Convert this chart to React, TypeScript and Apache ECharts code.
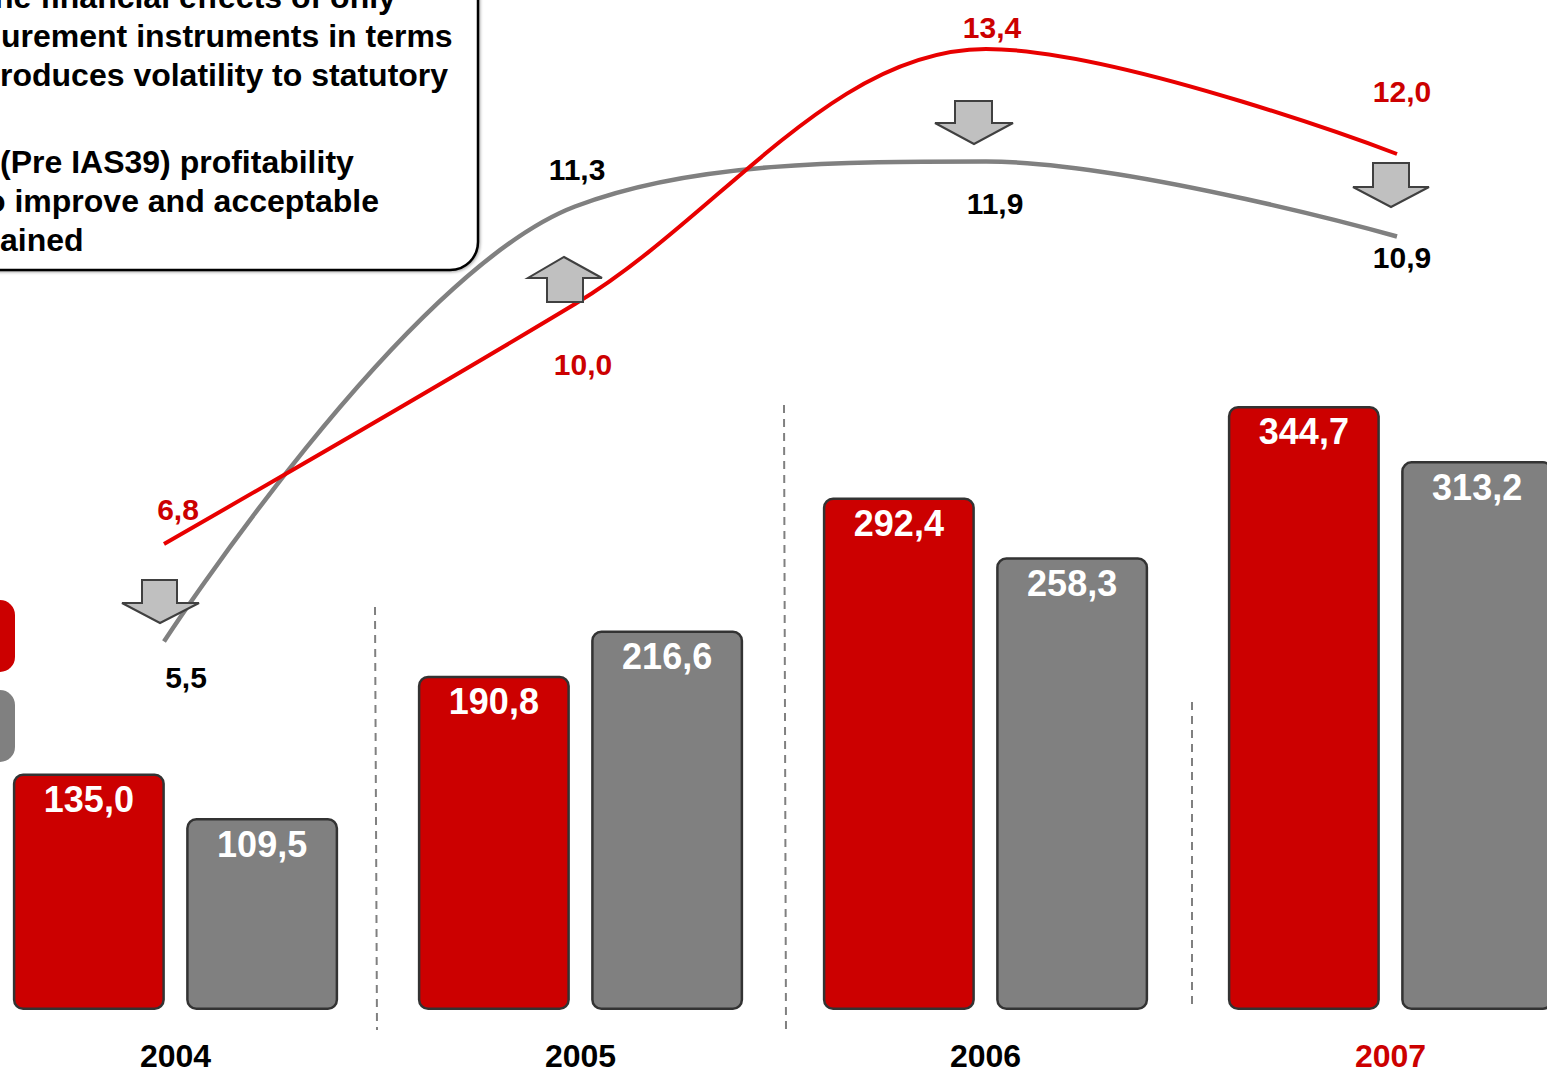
import React, { useEffect, useRef } from "react";
import * as echarts from "echarts";

const categories = ["2004", "2005", "2006", "2007"];
const redBars = [135.0, 190.8, 292.4, 344.7];
const grayBars = [109.5, 216.6, 258.3, 313.2];
const redLine = [6.8, 10.0, 13.4, 12.0];
const grayLine = [5.5, 11.3, 11.9, 10.9];

const boxLines = [
  "he financial effects of only",
  "urement instruments in terms",
  "roduces volatility to statutory",
  "(Pre IAS39) profitability",
  "o improve and acceptable",
  "ained",
];

// label placement styling (not data)
const redLabelOffsets = [[14, -35], [8, 60], [6, -22], [5, -63]];
const grayLabelOffsets = [[22, 36], [2, -37], [9, 42], [5, 21]];

const FONT = "'Liberation Sans', Arial, Helvetica, sans-serif";
const RED = "#CC0000";
const GRAY = "#808080";

// the chart canvas is wider than the page; it starts OFF px left of the page
const OFF = 27;
const CHART_W = 1547 + OFF + 46;
const X = (px: number) => px + OFF;

const fmt = (v: number) => v.toFixed(1).replace(".", ",");

function downArrow(bodyL: number, bodyR: number, top: number, headY: number, headL: number, headR: number, tipX: number, tipY: number) {
  return {
    type: "polygon",
    shape: {
      points: [
        [X(bodyL), top], [X(bodyR), top], [X(bodyR), headY], [X(headR), headY], [X(tipX), tipY], [X(headL), headY], [X(bodyL), headY],
      ],
    },
    style: { fill: "#C0C0C0", stroke: "#404040", lineWidth: 2 },
    z: 20,
  };
}

export default function App() {
  const ref = useRef<HTMLDivElement>(null);
  useEffect(() => {
    document.body.style.margin = "0";
    if (!ref.current) return;
    const chart = echarts.init(ref.current, null, { renderer: "svg" });

    const lineData = (vals: number[], offs: number[][]) =>
      vals.map((v, i) => ({
        value: v,
        label: { offset: offs[i] },
      }));

    const boxYs = [-3, 36, 75, 162, 201, 240];
    const boxXs = [-6, 1, 0, 0, -14, 0];

    const lineLabel = (color: string) => ({
      show: true,
      position: "inside",
      color,
      fontSize: 30,
      fontWeight: "bold",
      fontFamily: FONT,
      formatter: (p: any) => fmt(p.value),
    });

    const barLabel = {
      show: true,
      position: "insideTop",
      distance: 8,
      color: "#ffffff",
      fontSize: 36,
      fontWeight: "bold",
      fontFamily: FONT,
      formatter: (p: any) => fmt(p.value),
    };

    const option: any = {
      animation: false,
      backgroundColor: "#ffffff",
      textStyle: { fontFamily: FONT },
      grid: [
        { left: 0, right: 0, top: 125, bottom: 57 },
        { left: X(164), right: CHART_W - X(1397), top: 4, bottom: 18 },
      ],
      xAxis: [
        {
          type: "category",
          gridIndex: 0,
          data: categories,
          axisLine: { show: false },
          axisTick: { show: false },
          axisLabel: {
            margin: 30,
            fontSize: 32,
            fontWeight: "bold",
            fontFamily: FONT,
            color: (_v: any, i: number) => (i === 3 ? RED : "#000000"),
          },
        },
        {
          type: "category",
          gridIndex: 1,
          data: categories,
          boundaryGap: false,
          show: false,
        },
      ],
      yAxis: [
        { type: "value", gridIndex: 0, min: 0, max: 505, show: false, splitLine: { show: false } },
        { type: "value", gridIndex: 1, min: 0, max: 14, show: false, splitLine: { show: false } },
      ],
      series: [
        {
          type: "bar",
          xAxisIndex: 0,
          yAxisIndex: 0,
          data: redBars,
          barWidth: 152,
          barGap: "14%",
          itemStyle: { color: RED, borderColor: "#333333", borderWidth: 2.5, borderRadius: 9 },
          label: barLabel,
        },
        {
          type: "bar",
          xAxisIndex: 0,
          yAxisIndex: 0,
          data: grayBars,
          barWidth: 152,
          barGap: "14%",
          itemStyle: { color: GRAY, borderColor: "#333333", borderWidth: 2.5, borderRadius: 9 },
          label: barLabel,
        },
        {
          type: "line",
          xAxisIndex: 1,
          yAxisIndex: 1,
          data: lineData(grayLine, grayLabelOffsets),
          smooth: 0.35,
          symbol: "circle",
          symbolSize: 1,
          showSymbol: true,
          itemStyle: { color: "rgba(0,0,0,0)" },
          z: 5,
          lineStyle: { color: GRAY, width: 4.5 },
          label: lineLabel("#000000"),
        },
        {
          type: "line",
          xAxisIndex: 1,
          yAxisIndex: 1,
          data: lineData(redLine, redLabelOffsets),
          smooth: 0.35,
          symbol: "circle",
          symbolSize: 1,
          showSymbol: true,
          itemStyle: { color: "rgba(0,0,0,0)" },
          z: 6,
          lineStyle: { color: "#E80000", width: 4 },
          label: lineLabel(RED),
        },
      ],
      graphic: [
        {
          type: "rect",
          shape: { x: X(-40), y: -40, width: 518, height: 310, r: 28 },
          style: { fill: "#ffffff", stroke: "#000000", lineWidth: 2.5, shadowBlur: 3, shadowColor: "rgba(0,0,0,0.35)", shadowOffsetX: 1, shadowOffsetY: 1 },
          z: 1,
        },
        ...boxLines.map((t, i) => ({
          type: "text",
          x: X(boxXs[i]),
          y: boxYs[i],
          z: 2,
          style: {
            text: t,
            font: `bold 32px ${FONT}`,
            fill: "#000000",
            textAlign: "left",
            textVerticalAlign: "middle",
            align: "left",
            verticalAlign: "middle",
          },
        })),
        {
          type: "rect",
          shape: { x: X(-60), y: 600, width: 75, height: 72, r: 15 },
          style: { fill: RED },
          z: 2,
        },
        {
          type: "rect",
          shape: { x: X(-60), y: 690, width: 75, height: 72, r: 15 },
          style: { fill: GRAY },
          z: 2,
        },
        {
          type: "line",
          shape: { x1: X(375), y1: 607, x2: X(377), y2: 1030 },
          style: { stroke: GRAY, lineWidth: 2, lineDash: [8, 6] },
          z: 2,
        },
        {
          type: "line",
          shape: { x1: X(784), y1: 405, x2: X(786), y2: 1030 },
          style: { stroke: GRAY, lineWidth: 2, lineDash: [8, 6] },
          z: 2,
        },
        {
          type: "line",
          shape: { x1: X(1192), y1: 702, x2: X(1192), y2: 1010 },
          style: { stroke: GRAY, lineWidth: 2, lineDash: [8, 6] },
          z: 2,
        },
        downArrow(142, 177, 580, 603, 122, 199, 160, 623),
        {
          type: "polygon",
          shape: {
            points: [[X(564), 257], [X(602), 278], [X(583), 278], [X(583), 302], [X(547), 302], [X(547), 278], [X(528), 278]],
          },
          style: { fill: "#C0C0C0", stroke: "#404040", lineWidth: 2 },
          z: 20,
        },
        downArrow(955, 992, 101, 123, 935, 1013, 974, 144),
        downArrow(1373, 1409, 163, 187, 1353, 1429, 1391, 207),
      ],
    };
    chart.setOption(option);
    return () => chart.dispose();
  }, []);
  return (
    <div style={{ position: "relative", width: 1547, height: 1072, overflow: "hidden" }}>
      <div ref={ref} style={{ position: "absolute", left: -OFF, top: 0, width: CHART_W, height: 1072 }} />
    </div>
  );
}
